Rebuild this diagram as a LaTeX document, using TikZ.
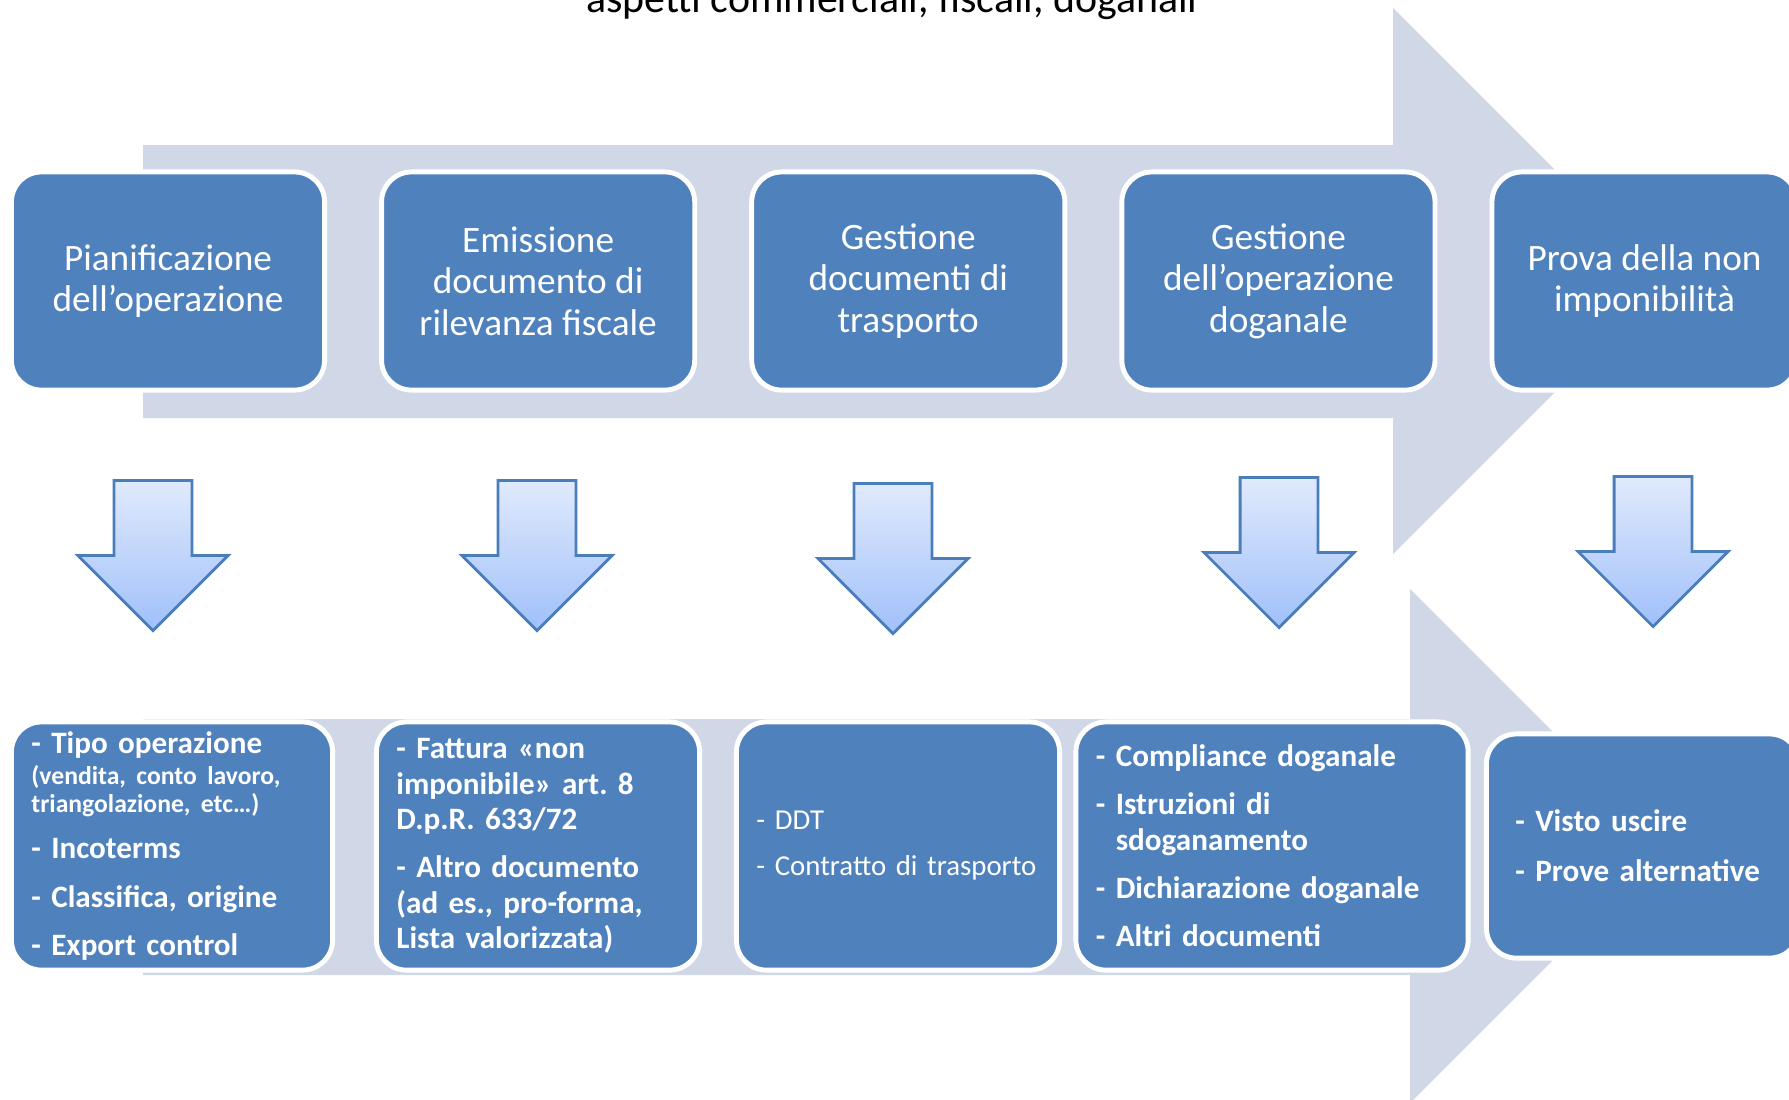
\documentclass[tikz,border=0pt]{standalone}
\usepackage{fontspec}
\setmainfont{Carlito}
\usetikzlibrary{positioning,shapes.arrows}

\definecolor{phaseblue}{RGB}{79,129,189}
\definecolor{flowgray}{RGB}{208,216,232}
\definecolor{downtop}{RGB}{224,234,252}
\definecolor{downbot}{RGB}{160,192,250}
\definecolor{downline}{RGB}{74,126,187}

\def\colsep{0.52cm}
\def\itemgap{3.6pt}

\begin{document}
\frenchspacing
\begin{tikzpicture}[x=0.01cm,y=-0.01cm]
	\tikzstyle{flow}=[fill=flowgray]
	\tikzstyle{phase}=[rectangle,rounded corners=0.3cm,fill=phaseblue,draw=white,line width=1.4pt,text=white,inner sep=0pt,align=center,minimum width=3.13cm,minimum height=2.18cm,font=\fontsize{10.6}{11.8}\selectfont]
	\tikzstyle{detail}=[phase,align=left,inner xsep=0.2cm,minimum height=2.48cm,font=\fontsize{8.85}{10.1}\selectfont\bfseries]
	\tikzstyle{down}=[single arrow,shape border rotate=270,single arrow head extend=0.36cm,single arrow tip angle=90,minimum width=1.47cm,minimum height=1.5cm,inner sep=0.375cm,draw=downline,line width=0.8pt,top color=downtop,bottom color=downbot]

	\useasboundingbox (0,0) rectangle (1789,1099);
	\clip (0,0) rectangle (1789,1099);

	% Draw the two big background arrows
	\fill[flow] (143,145) -- (1393,145) -- (1393,8) -- (1666,281) -- (1393,554) -- (1393,418) -- (143,418) -- cycle;
	\fill[flow] (143,719) -- (1410,719) -- (1410,589) -- (1667,846) -- (1410,1103) -- (1410,975) -- (143,975) -- cycle;

	% Title (cut at the top edge)
	\node[anchor=base,font=\fontsize{11.9}{13}\selectfont] (title) at (892,12) {aspetti commerciali, fiscali, doganali};

	% Draw the phases
	\node[phase] (P-1) at (168,281) {Pianificazione\\dell’operazione};
	\node[phase, right=\colsep of P-1] (P-2) {Emissione\\documento di\\rilevanza fiscale};
	\node[phase, right=\colsep of P-2] (P-3) {Gestione\\documenti di\\trasporto};
	\node[phase, right=\colsep of P-3] (P-4) {Gestione\\dell’operazione\\doganale};
	\node[phase, right=\colsep of P-4, minimum width=3.05cm] (P-5) {Prova della non\\imponibilità};

	% Draw the down arrows
	\foreach \name / \x / \y in {1/153/536, 2/537/536, 3/893/539, 4/1279/533, 5/1653/532}
	\node[down] (D-\name) at (\x,\y) {};

	% Draw the details of every phase
	\node[detail, text width=2.81cm] (L-1) at (172,846) {- Tipo operazione\\[0.6pt]{\fontsize{7.3}{8.1}\selectfont\mbox{(vendita, conto lavoro,}\\[-2pt]triangolazione, etc…)}\\[3pt]- Incoterms\\[\itemgap]\mbox{- Classifica, origine}\\[\itemgap]- Export control};
	\node[detail, text width=2.83cm] (L-2) at (538,846) {- Fattura «non\\imponibile» art. 8\\D.p.R. 633/72\\[\itemgap]- Altro documento\\\mbox{(ad es., pro-forma,}\\Lista valorizzata)};
	\node[detail, text width=2.83cm, font=\fontsize{8.2}{10.1}\selectfont] (L-3) at (898,846) {- DDT\\[3pt]\mbox{- Contratto di trasporto}};
	\node[detail, text width=3.52cm] (L-4) at (1272,846) {- Compliance doganale\\[\itemgap]- Istruzioni di\\\phantom{- }sdoganamento\\[\itemgap]\mbox{- Dichiarazione doganale}\\[\itemgap]- Altri documenti};
	\node[detail, text width=2.55cm, minimum height=2.24cm] (L-5) at (1643,846) {- Visto uscire\\[4.1pt]\mbox{- Prove alternative}};
\end{tikzpicture}
\end{document}
